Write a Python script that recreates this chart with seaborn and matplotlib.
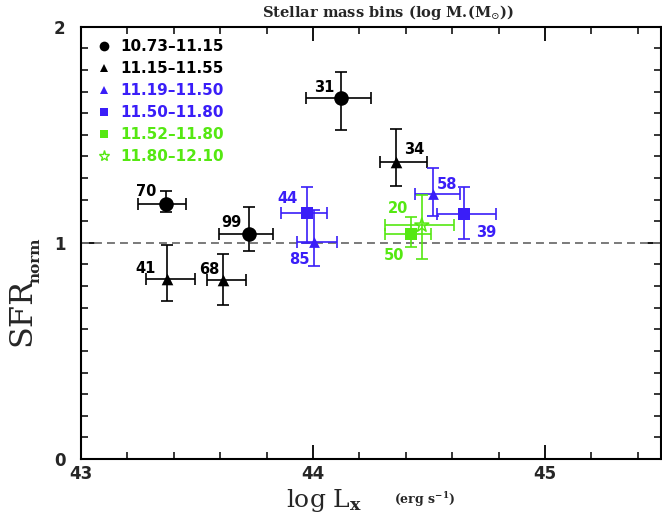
import numpy as np
import pandas as pd
import matplotlib
matplotlib.use("Agg")
import matplotlib.pyplot as plt
import seaborn as sns
from matplotlib.lines import Line2D
from matplotlib.ticker import MultipleLocator

# ---------------- data ----------------
bin_labels = ["10.73–11.15", "11.15–11.55", "11.19–11.50",
              "11.50–11.80", "11.52–11.80", "11.80–12.10"]
point_bin = [0, 0, 0, 1, 1, 1, 2, 2, 3, 3, 4, 5]
point_count = ["70", "99", "31", "41", "68", "34", "85", "58", "44", "39", "50", "20"]
log_lx = [43.365, 43.722, 44.121, 43.372, 43.614, 44.359,
          44.004, 44.519, 43.973, 44.652, 44.422, 44.469]
sfr_norm = [1.181, 1.039, 1.669, 0.835, 0.827, 1.373,
            1.004, 1.227, 1.138, 1.132, 1.039, 1.081]
xerr_lo = [0.12, 0.129, 0.15, 0.09, 0.072, 0.069, 0.072, 0.08, 0.109, 0.119, 0.11, 0.157]
xerr_hi = [0.089, 0.107, 0.129, 0.121, 0.097, 0.131, 0.10, 0.115, 0.088, 0.136, 0.088, 0.14]
yerr_lo = [0.039, 0.079, 0.149, 0.103, 0.115, 0.112, 0.112, 0.105, 0.139, 0.112, 0.059, 0.158]
yerr_hi = [0.058, 0.129, 0.12, 0.154, 0.12, 0.154, 0.15, 0.12, 0.12, 0.126, 0.08, 0.139]

# ---------------- style ----------------
BLACK = "#000000"
BLUE = "#3a1ef8"
GREEN = "#55e812"
bin_colors = [BLACK, BLACK, BLUE, BLUE, GREEN, GREEN]
bin_markers = ["o", "^", "^", "s", "s", "*"]
bin_sizes = [110, 70, 60, 75, 70, 110]
legend_msize = [7, 6, 6, 6, 6, 8]
# label offsets in pixels (dx, dy) relative to each point
label_offsets = [(-19, 12), (-17, 12), (-17, 11), (-22, 10), (-14, 11), (18, 13),
                 (-15, -18), (14, 9), (-19, 15), (22, -18), (-17, -21), (-24, 17)]

sns.set_style("ticks")
plt.rcParams["font.family"] = ["DejaVu Sans"]
plt.rcParams["mathtext.fontset"] = "dejavuserif"

df = pd.DataFrame({
    "log_lx": log_lx, "sfr": sfr_norm,
    "bin": [bin_labels[b] for b in point_bin],
    "count": point_count,
})

fig = plt.figure(figsize=(6.62, 5.17), dpi=100)
ax = fig.add_axes([81 / 662, 1 - 459 / 517, 580 / 662, (459 - 26.7) / 517])

ax.axhline(1.0, color="#707070", lw=1.3, ls=(0, (4.4, 2.8)), zorder=1)

# error bars per point
for i in range(len(log_lx)):
    c = bin_colors[point_bin[i]]
    ax.errorbar([log_lx[i]], [sfr_norm[i]],
                xerr=[[xerr_lo[i]], [xerr_hi[i]]], yerr=[[yerr_lo[i]], [yerr_hi[i]]],
                fmt="none", ecolor=c, elinewidth=1.2, capsize=4.3, capthick=1.2, zorder=2)

# markers via seaborn
for b in range(len(bin_labels)):
    sub = df[df["bin"] == bin_labels[b]]
    if len(sub) == 0:
        continue
    sns.scatterplot(data=sub, x="log_lx", y="sfr", ax=ax, marker=bin_markers[b],
                    color=bin_colors[b], s=bin_sizes[b], edgecolor=bin_colors[b],
                    linewidth=1.1 if bin_markers[b] == "*" else 0, legend=False, zorder=3)
    if bin_markers[b] == "*":
        coll = ax.collections[-1]
        coll.set_facecolor("none")
        coll.set_edgecolor(bin_colors[b])

# count labels
for i in range(len(log_lx)):
    ax.annotate(point_count[i], (log_lx[i], sfr_norm[i]), xytext=label_offsets[i],
                textcoords="offset pixels", ha="center", va="center",
                fontsize=10.5, fontweight="bold", color=bin_colors[point_bin[i]], zorder=4)

ax.set_xlim(43, 45.5)
ax.set_ylim(0, 2)
ax.xaxis.set_major_locator(MultipleLocator(1))
ax.xaxis.set_minor_locator(MultipleLocator(0.2))
ax.yaxis.set_major_locator(MultipleLocator(1))
ax.yaxis.set_minor_locator(MultipleLocator(0.1))
ax.tick_params(which="both", direction="in", top=True, right=True, color="black")
ax.tick_params(which="major", length=10, width=1.3)
ax.tick_params(which="minor", length=5, width=1.1)
ax.tick_params(axis="y", which="major", pad=11)
ax.tick_params(axis="x", which="major", pad=4)
for lab in ax.get_xticklabels() + ax.get_yticklabels():
    lab.set_fontsize(12)
    lab.set_fontweight("bold")
for sp in ax.spines.values():
    sp.set_linewidth(1.5)
    sp.set_color("black")
ax.set_xlabel("")
ax.set_ylabel("")

# axis labels
ax.text(0.42, -0.097, r"log L$_{\mathbf{x}}$", transform=ax.transAxes, ha="center", va="center",
        fontsize=18, family="DejaVu Serif")
ax.text(0.593, -0.094, r"(erg s$^{\mathbf{-1}}$)", transform=ax.transAxes, ha="center", va="center",
        fontsize=9, family="DejaVu Serif", fontweight="bold")
ax.text(-0.1026, 0.340, "SFR", transform=ax.transAxes, ha="center", va="center",
        rotation=90, fontsize=23, family="DejaVu Serif")
ax.text(-0.0793, 0.46, "norm", transform=ax.transAxes, ha="center", va="center",
        rotation=90, fontsize=11, family="DejaVu Serif", fontweight="bold")
ax.text(0.529, 1.032, r"Stellar mass bins (log M.(M$_{\odot}$))", transform=ax.transAxes,
        ha="center", va="center", fontsize=10.5, family="DejaVu Serif", fontweight="bold")

# legend
handles = []
for b in range(len(bin_labels)):
    filled = bin_markers[b] != "*"
    handles.append(Line2D([], [], ls="None", marker=bin_markers[b], color=bin_colors[b],
                          markersize=legend_msize[b],
                          markerfacecolor=bin_colors[b] if filled else "none",
                          markeredgecolor=bin_colors[b], markeredgewidth=0 if filled else 1.0))
leg = ax.legend(handles, bin_labels, loc="upper left", bbox_to_anchor=(0.027, 0.9715),
                frameon=False, borderaxespad=0, borderpad=0, handlelength=1.0,
                handletextpad=0.55, labelspacing=0.46, prop={"size": 11, "weight": "bold"})
for t, c in zip(leg.get_texts(), bin_colors):
    t.set_color(c)

fig.savefig("out.png", dpi=100)
